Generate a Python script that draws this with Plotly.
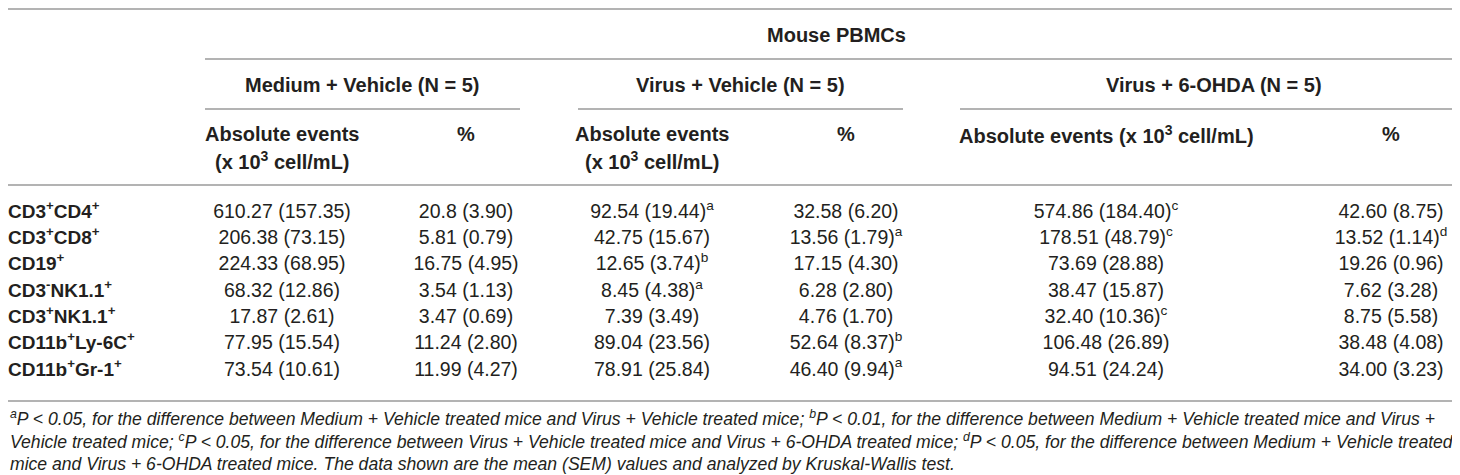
import plotly.graph_objects as go

# table content
row_labels = [
    "CD3<sup>+</sup>CD4<sup>+</sup>",
    "CD3<sup>+</sup>CD8<sup>+</sup>",
    "CD19<sup>+</sup>",
    "CD3<sup>-</sup>NK1.1<sup>+</sup>",
    "CD3<sup>+</sup>NK1.1<sup>+</sup>",
    "CD11b<sup>+</sup>Ly-6C<sup>+</sup>",
    "CD11b<sup>+</sup>Gr-1<sup>+</sup>",
]
medium_abs = ["610.27 (157.35)", "206.38 (73.15)", "224.33 (68.95)", "68.32 (12.86)",
              "17.87 (2.61)", "77.95 (15.54)", "73.54 (10.61)"]
medium_pct = ["20.8 (3.90)", "5.81 (0.79)", "16.75 (4.95)", "3.54 (1.13)",
              "3.47 (0.69)", "11.24 (2.80)", "11.99 (4.27)"]
virus_abs = ["92.54 (19.44)", "42.75 (15.67)", "12.65 (3.74)", "8.45 (4.38)",
             "7.39 (3.49)", "89.04 (23.56)", "78.91 (25.84)"]
virus_abs_sig = ["a", "", "b", "a", "", "", ""]
virus_pct = ["32.58 (6.20)", "13.56 (1.79)", "17.15 (4.30)", "6.28 (2.80)",
             "4.76 (1.70)", "52.64 (8.37)", "46.40 (9.94)"]
virus_pct_sig = ["", "a", "", "", "", "b", "a"]
ohda_abs = ["574.86 (184.40)", "178.51 (48.79)", "73.69 (28.88)", "38.47 (15.87)",
            "32.40 (10.36)", "106.48 (26.89)", "94.51 (24.24)"]
ohda_abs_sig = ["c", "c", "", "", "c", "", ""]
ohda_pct = ["42.60 (8.75)", "13.52 (1.14)", "19.26 (0.96)", "7.62 (3.28)",
            "8.75 (5.58)", "38.48 (4.08)", "34.00 (3.23)"]
ohda_pct_sig = ["", "d", "", "", "", "", ""]

group_titles = ["Medium + Vehicle (N = 5)", "Virus + Vehicle (N = 5)", "Virus + 6-OHDA (N = 5)"]
footnotes = [
    "<sup>a</sup>P < 0.05, for the difference between Medium + Vehicle treated mice and Virus + Vehicle treated mice; "
    "<sup>b</sup>P < 0.01, for the difference between Medium + Vehicle treated mice and Virus +",
    "Vehicle treated mice; <sup>c</sup>P < 0.05, for the difference between Virus + Vehicle treated mice and "
    "Virus + 6-OHDA treated mice; <sup>d</sup>P < 0.05, for the difference between Medium + Vehicle treated",
    "mice and Virus + 6-OHDA treated mice. The data shown are the mean (SEM) values and analyzed by Kruskal-Wallis test.",
]

W, H = 1460, 475
FONT = "Liberation Sans, Arial, sans-serif"
TXT = "#231f20"
LINE = "#9a9a9a"

col_x = [274, 458, 644, 838, 1098, 1383]
group_span = [(197, 512), (570, 895), (952, 1460)]
row_y = [205 + 26.3 * i for i in range(len(row_labels))]


def with_sig(vals, sig):
    return [v + ("<sup>%s</sup>" % s if s else "") for v, s in zip(vals, sig)]


columns = [
    medium_abs,
    medium_pct,
    with_sig(virus_abs, virus_abs_sig),
    with_sig(virus_pct, virus_pct_sig),
    with_sig(ohda_abs, ohda_abs_sig),
    with_sig(ohda_pct, ohda_pct_sig),
]

fig = go.Figure()
for cx, vals in zip(col_x, columns):
    fig.add_trace(go.Scatter(x=[cx] * len(vals), y=row_y, text=vals, mode="text",
                             textposition="middle center",
                             textfont=dict(family=FONT, size=19.5, color=TXT),
                             hoverinfo="skip", showlegend=False))

# row labels
fig.add_trace(go.Scatter(x=[0] * len(row_labels), y=row_y, text=["<b>%s</b>" % r for r in row_labels],
                         mode="text", textposition="middle right",
                         textfont=dict(family=FONT, size=19, color=TXT),
                         hoverinfo="skip", showlegend=False))

ann = []
bold = dict(family=FONT, size=20, color=TXT)
ann.append(dict(x=(197 + 1460) / 2, y=27, text="<b>Mouse PBMCs</b>", font=bold))
for (x0, x1), t in zip(group_span, group_titles):
    ann.append(dict(x=(x0 + x1) / 2, y=77, text="<b>%s</b>" % t, font=bold))
for i in [0, 2]:
    ann.append(dict(x=col_x[i], y=126, text="<b>Absolute events</b>", font=bold))
    ann.append(dict(x=col_x[i], y=152, text="<b>(x 10<sup>3</sup> cell/mL)</b>", font=bold))
ann.append(dict(x=col_x[4], y=126, text="<b>Absolute events (x 10<sup>3</sup> cell/mL)</b>", font=bold))
for i in [1, 3, 5]:
    ann.append(dict(x=col_x[i], y=126, text="<b>%</b>", font=bold))
for k, f in enumerate(footnotes):
    ann.append(dict(x=0, y=410 + 23 * k, text="<i>%s</i>" % f, xanchor="left",
                    font=dict(family=FONT, size=17.6, color=TXT)))
for a in ann:
    a.update(xref="x", yref="y", showarrow=False)
    a.setdefault("xanchor", "center")
    a.setdefault("yanchor", "middle")

shapes = []
hlines = [(0, W, 1), (197, W, 51), (0, W, 177), (0, W, 393)]
for x0, x1, y in hlines:
    shapes.append(dict(type="line", x0=x0, x1=x1, y0=y, y1=y))
for x0, x1 in group_span:
    shapes.append(dict(type="line", x0=x0, x1=x1, y0=101, y1=101))
for s in shapes:
    s.update(xref="x", yref="y", line=dict(color=LINE, width=1.5))

fig.update_layout(
    width=W, height=H,
    margin=dict(l=0, r=0, t=0, b=0),
    paper_bgcolor="white", plot_bgcolor="white",
    xaxis=dict(range=[0, W], visible=False, fixedrange=True),
    yaxis=dict(range=[H, 0], visible=False, fixedrange=True),
    annotations=ann, shapes=shapes,
)
fig.write_html("out.html", config={"displayModeBar": False})
